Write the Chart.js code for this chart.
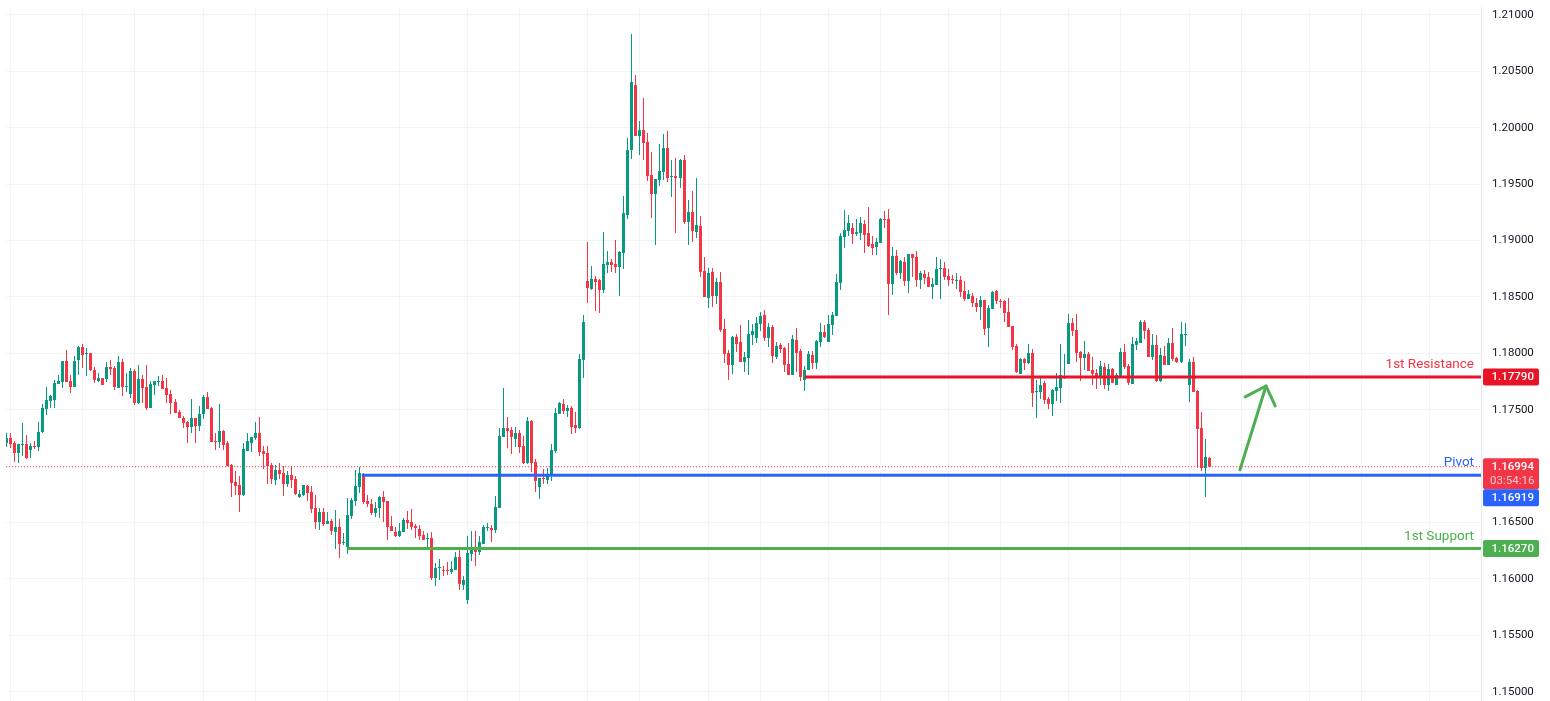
<!DOCTYPE html>
<html><head><meta charset="utf-8">
<script src="https://cdn.jsdelivr.net/npm/chart.js@4/dist/chart.umd.min.js"></script>
<style>html,body{margin:0;padding:0;background:#fff;overflow:hidden}canvas{display:block}</style>
</head><body><canvas id="c" width="1550" height="701"></canvas>
<script>
const highs=[1.17293,1.17293,1.17222,1.17195,1.17382,1.17275,1.17204,1.17222,1.17390,1.17550,
1.17701,1.17630,1.17763,1.17807,1.17931,1.18029,1.17807,1.17976,1.18064,1.18082,
1.18046,1.18002,1.17878,1.17825,1.17780,1.17922,1.17940,1.17887,1.17976,1.17949,
1.17825,1.17869,1.17860,1.17896,1.17807,1.17896,1.17754,1.17754,1.17798,1.17807,
1.17780,1.17674,1.17594,1.17497,1.17444,1.17399,1.17594,1.17426,1.17532,1.17630,
1.17656,1.17523,1.17293,1.17550,1.17319,1.17222,1.17018,1.16956,1.16912,1.17204,
1.17293,1.17257,1.17390,1.17435,1.17178,1.17178,1.17027,1.17009,1.17027,1.17000,
1.16956,1.17000,1.16912,1.16788,1.16832,1.16832,1.16823,1.16744,1.16628,1.16628,
1.16593,1.16531,1.16611,1.16531,1.16407,1.16717,1.16717,1.16965,1.16992,1.16939,
1.16744,1.16708,1.16681,1.16735,1.16779,1.16690,1.16557,1.16460,1.16495,1.16540,
1.16602,1.16619,1.16486,1.16478,1.16424,1.16407,1.16416,1.16141,1.16176,1.16114,
1.16150,1.16158,1.16238,1.16283,1.16025,1.16380,1.16424,1.16424,1.16380,1.16478,
1.16495,1.16478,1.16735,1.17337,1.17692,1.17435,1.17346,1.17346,1.17320,1.17267,
1.17435,1.17408,1.17063,1.16894,1.16974,1.16983,1.17196,1.17515,1.17568,1.17595,
1.17541,1.17533,1.17479,1.17994,1.18340,1.18987,1.18774,1.18685,1.18659,1.19075,
1.18907,1.18836,1.19004,1.18907,1.19394,1.19909,1.20831,1.20467,1.20059,1.20263,
1.19953,1.19785,1.19545,1.19855,1.19944,1.19971,1.19714,1.19731,1.19722,1.19758,
1.19359,1.19439,1.19554,1.19217,1.18854,1.18756,1.18756,1.18668,1.18721,1.18304,
1.18029,1.18153,1.18171,1.18251,1.18012,1.18295,1.18260,1.18322,1.18366,1.18384,
1.18269,1.18251,1.18100,1.18091,1.18056,1.18091,1.18162,1.18224,1.18038,1.17887,
1.18020,1.18020,1.18118,1.18269,1.18251,1.18340,1.18366,1.18703,1.19066,1.19270,
1.19226,1.19155,1.19191,1.19208,1.19182,1.19297,1.19040,1.19022,1.19199,1.19261,
1.19279,1.18942,1.18916,1.18827,1.18854,1.18880,1.18880,1.18907,1.18730,1.18738,
1.18721,1.18668,1.18854,1.18836,1.18809,1.18747,1.18694,1.18712,1.18685,1.18641,
1.18561,1.18535,1.18490,1.18508,1.18472,1.18428,1.18552,1.18561,1.18481,1.18472,
1.18490,1.18242,1.18082,1.17958,1.17958,1.18082,1.18038,1.17763,1.17790,1.17754,
1.17613,1.17683,1.17825,1.18082,1.17994,1.18348,1.18313,1.18348,1.18020,1.18109,
1.18012,1.17967,1.17861,1.17932,1.17914,1.17905,1.17870,1.17825,1.18047,1.18082,
1.17905,1.18145,1.18136,1.18295,1.18295,1.18224,1.18171,1.18162,1.18047,1.18065,
1.18136,1.18224,1.17967,1.18277,1.18269,1.17949,1.17967,1.17675,1.17480,1.17240,
1.17081];
const lows=[1.17169,1.17160,1.17036,1.17027,1.17089,1.17062,1.17071,1.17151,1.17133,1.17293,
1.17452,1.17515,1.17515,1.17727,1.17692,1.17745,1.17647,1.17701,1.17807,1.17869,
1.17798,1.17843,1.17736,1.17745,1.17718,1.17745,1.17807,1.17674,1.17692,1.17621,
1.17656,1.17603,1.17541,1.17550,1.17559,1.17497,1.17515,1.17630,1.17710,1.17683,
1.17559,1.17461,1.17470,1.17426,1.17337,1.17204,1.17293,1.17204,1.17311,1.17417,
1.17506,1.17213,1.17142,1.17160,1.17142,1.17000,1.16726,1.16743,1.16593,1.16734,
1.17133,1.17124,1.17231,1.17089,1.16974,1.16841,1.16841,1.16832,1.16885,1.16734,
1.16814,1.16805,1.16743,1.16717,1.16735,1.16690,1.16584,1.16442,1.16433,1.16469,
1.16486,1.16389,1.16265,1.16185,1.16300,1.16220,1.16531,1.16646,1.16761,1.16664,
1.16637,1.16566,1.16548,1.16540,1.16504,1.16345,1.16424,1.16371,1.16371,1.16416,
1.16442,1.16433,1.16362,1.16345,1.16345,1.16265,1.15990,1.15937,1.15990,1.16025,
1.16034,1.16043,1.16079,1.15901,1.15901,1.15777,1.16158,1.16114,1.16212,1.16309,
1.16424,1.16327,1.16407,1.16628,1.17258,1.17157,1.17107,1.17169,1.17116,1.17018,
1.17018,1.16947,1.16770,1.16708,1.16841,1.16841,1.16868,1.17116,1.17462,1.17462,
1.17435,1.17284,1.17293,1.17329,1.17781,1.18446,1.18561,1.18375,1.18357,1.18535,
1.18712,1.18721,1.18712,1.18508,1.18747,1.19191,1.19722,1.19926,1.19758,1.19714,
1.19527,1.19199,1.18960,1.19483,1.19536,1.19519,1.19386,1.19066,1.19465,1.19146,
1.18960,1.18987,1.19022,1.18676,1.18499,1.18402,1.18410,1.18437,1.18189,1.17914,
1.17763,1.17817,1.18012,1.17923,1.17834,1.17808,1.18074,1.18091,1.18198,1.18109,
1.18056,1.17914,1.17949,1.18003,1.17834,1.17808,1.17808,1.17834,1.17754,1.17666,
1.17852,1.17861,1.17861,1.18056,1.18136,1.18100,1.18162,1.18331,1.18561,1.18933,
1.19040,1.18969,1.19040,1.19004,1.18889,1.18942,1.18871,1.18871,1.18978,1.19111,
1.18340,1.18517,1.18694,1.18659,1.18597,1.18535,1.18676,1.18588,1.18570,1.18614,
1.18588,1.18481,1.18605,1.18481,1.18650,1.18597,1.18614,1.18570,1.18499,1.18464,
1.18481,1.18410,1.18366,1.18295,1.18162,1.18056,1.18393,1.18437,1.18402,1.18277,
1.18233,1.18029,1.17825,1.17817,1.17852,1.17905,1.17524,1.17426,1.17595,1.17551,
1.17506,1.17444,1.17577,1.17559,1.17772,1.17905,1.18153,1.17923,1.17754,1.17852,
1.17843,1.17719,1.17683,1.17719,1.17683,1.17666,1.17737,1.17719,1.17781,1.17861,
1.17719,1.17728,1.18029,1.18091,1.18127,1.17967,1.17941,1.17746,1.17746,1.17896,
1.17896,1.17932,1.17914,1.17914,1.18065,1.17568,1.17657,1.16983,1.16957,1.16726,
1.16992];
const opens=[1.17204,1.17249,1.17204,1.17116,1.17187,1.17195,1.17142,1.17178,1.17169,1.17302,
1.17506,1.17577,1.17585,1.17727,1.17745,1.17931,1.17754,1.17701,1.17940,1.18055,
1.17993,1.18002,1.17851,1.17754,1.17780,1.17772,1.17878,1.17869,1.17692,1.17922,
1.17701,1.17639,1.17843,1.17559,1.17772,1.17701,1.17515,1.17718,1.17745,1.17754,
1.17692,1.17639,1.17568,1.17479,1.17426,1.17390,1.17346,1.17426,1.17355,1.17461,
1.17612,1.17515,1.17222,1.17213,1.17311,1.17204,1.17009,1.16859,1.16832,1.16743,
1.17133,1.17204,1.17249,1.17293,1.17133,1.17116,1.17009,1.16876,1.16965,1.16938,
1.16841,1.16921,1.16885,1.16726,1.16744,1.16823,1.16770,1.16628,1.16504,1.16593,
1.16486,1.16513,1.16416,1.16460,1.16318,1.16283,1.16557,1.16690,1.16814,1.16930,
1.16690,1.16664,1.16584,1.16628,1.16726,1.16690,1.16469,1.16416,1.16380,1.16416,
1.16522,1.16504,1.16469,1.16442,1.16389,1.16353,1.16362,1.16008,1.16096,1.16079,
1.16079,1.16061,1.16079,1.16194,1.15946,1.15813,1.16220,1.16283,1.16238,1.16309,
1.16451,1.16451,1.16433,1.16628,1.17258,1.17337,1.17320,1.17240,1.17293,1.17178,
1.17027,1.17400,1.17036,1.16814,1.16894,1.16876,1.16912,1.17134,1.17462,1.17550,
1.17488,1.17515,1.17364,1.17338,1.17941,1.18641,1.18570,1.18659,1.18650,1.18561,
1.18783,1.18809,1.18792,1.18765,1.18889,1.19226,1.19802,1.20378,1.19926,1.19980,
1.19873,1.19581,1.19412,1.19536,1.19607,1.19820,1.19563,1.19572,1.19554,1.19714,
1.19164,1.19253,1.19075,1.19129,1.18730,1.18490,1.18721,1.18508,1.18632,1.18215,
1.18003,1.17896,1.18145,1.18100,1.17923,1.17958,1.18162,1.18136,1.18260,1.18340,
1.18136,1.18233,1.17967,1.18074,1.18047,1.17905,1.17808,1.18118,1.18020,1.17763,
1.17852,1.17985,1.17914,1.18100,1.18189,1.18100,1.18251,1.18331,1.18623,1.19031,
1.19084,1.19111,1.19058,1.19066,1.19146,1.19066,1.18969,1.18942,1.18978,1.19191,
1.19191,1.18614,1.18863,1.18712,1.18809,1.18641,1.18880,1.18854,1.18650,1.18703,
1.18676,1.18588,1.18605,1.18747,1.18756,1.18685,1.18659,1.18641,1.18650,1.18552,
1.18481,1.18508,1.18446,1.18410,1.18472,1.18224,1.18393,1.18552,1.18464,1.18464,
1.18366,1.18242,1.18065,1.17817,1.17949,1.17914,1.18003,1.17657,1.17657,1.17737,
1.17595,1.17551,1.17666,1.17692,1.17781,1.17905,1.18269,1.18207,1.18012,1.17958,
1.17994,1.17852,1.17825,1.17781,1.17879,1.17719,1.17861,1.17719,1.17781,1.18012,
1.17887,1.17728,1.18074,1.18091,1.18277,1.18207,1.17967,1.18074,1.17754,1.17976,
1.17896,1.18091,1.17958,1.17923,1.18162,1.17719,1.17923,1.17666,1.17338,1.16983,
1.17072];
const closes=[1.17249,1.17195,1.17116,1.17195,1.17195,1.17071,1.17178,1.17169,1.17302,1.17515,
1.17585,1.17621,1.17736,1.17754,1.17931,1.17745,1.17701,1.17931,1.18055,1.17984,
1.18002,1.17851,1.17763,1.17780,1.17718,1.17878,1.17860,1.17701,1.17922,1.17701,
1.17710,1.17843,1.17559,1.17772,1.17692,1.17515,1.17727,1.17754,1.17754,1.17683,
1.17630,1.17559,1.17470,1.17426,1.17382,1.17346,1.17426,1.17355,1.17461,1.17612,
1.17506,1.17213,1.17213,1.17311,1.17187,1.17000,1.16850,1.16823,1.16743,1.17151,
1.17222,1.17257,1.17293,1.17124,1.17107,1.17000,1.16885,1.16965,1.16929,1.16841,
1.16921,1.16876,1.16752,1.16752,1.16832,1.16761,1.16619,1.16504,1.16593,1.16486,
1.16513,1.16424,1.16460,1.16309,1.16327,1.16566,1.16699,1.16823,1.16939,1.16681,
1.16664,1.16584,1.16628,1.16726,1.16681,1.16460,1.16424,1.16380,1.16424,1.16522,
1.16495,1.16460,1.16451,1.16380,1.16345,1.16362,1.16008,1.16096,1.16105,1.16070,
1.16070,1.16088,1.16194,1.15955,1.15990,1.16229,1.16283,1.16238,1.16327,1.16460,
1.16460,1.16433,1.16637,1.17267,1.17337,1.17311,1.17258,1.17293,1.17169,1.17027,
1.17400,1.17027,1.16868,1.16894,1.16885,1.16930,1.17142,1.17470,1.17559,1.17488,
1.17515,1.17346,1.17337,1.17949,1.18277,1.18579,1.18659,1.18632,1.18561,1.18792,
1.18809,1.18783,1.18765,1.18898,1.19244,1.19802,1.20405,1.19926,1.19980,1.19864,
1.19572,1.19412,1.19545,1.19616,1.19820,1.19554,1.19572,1.19554,1.19714,1.19164,
1.19253,1.19084,1.19137,1.18721,1.18499,1.18712,1.18508,1.18632,1.18207,1.17994,
1.17896,1.18145,1.18082,1.17923,1.17967,1.18171,1.18198,1.18269,1.18331,1.18136,
1.18233,1.17976,1.18065,1.18038,1.17896,1.17808,1.18127,1.18003,1.17790,1.17852,
1.17994,1.17914,1.18109,1.18189,1.18145,1.18260,1.18340,1.18632,1.19040,1.19093,
1.19155,1.19058,1.19075,1.19155,1.19049,1.18951,1.18933,1.18987,1.19191,1.19182,
1.18614,1.18863,1.18712,1.18818,1.18641,1.18880,1.18845,1.18650,1.18712,1.18668,
1.18588,1.18614,1.18747,1.18756,1.18676,1.18650,1.18650,1.18650,1.18543,1.18481,
1.18526,1.18446,1.18410,1.18472,1.18215,1.18402,1.18543,1.18464,1.18455,1.18357,
1.18233,1.18056,1.17834,1.17949,1.17914,1.18003,1.17648,1.17666,1.17719,1.17586,
1.17551,1.17675,1.17701,1.17808,1.17790,1.18269,1.18198,1.18003,1.17958,1.17994,
1.17843,1.17817,1.17781,1.17887,1.17719,1.17861,1.17737,1.17808,1.18012,1.17879,
1.17737,1.18082,1.18109,1.18277,1.18198,1.17967,1.18074,1.17754,1.17985,1.17896,
1.18091,1.17949,1.17923,1.18171,1.18171,1.17923,1.17657,1.17329,1.16983,1.17081,
1.16994];

const priceTicks=[1.21,1.205,1.2,1.195,1.19,1.185,1.18,1.175,1.17,1.165,1.16,1.155,1.15];
const hiddenTickLabels=[1.17];
const timeGridBars=[1,19,32,49,62,80,98,115,128,145,158,175,188,205,218,235,248,265,278,295,308,325,338,355];
const resistanceLevel=1.17790, pivotLevel=1.16919, supportLevel=1.16270, lastPrice=1.16994;
const resistanceStart=199.2, pivotStart=88.6, supportStart=85;
const countdownText='03:54:16';
const shaftBars=[307.7,314.2], shaftPrices=[1.16966,1.17710];
const headBars=[309.0,314.2,316.5], headPrices=[1.17613,1.17710,1.17533];

const UP='#089981', DOWN='#f23645', RES='#e91327', PIV='#2962ff', SUP='#4caf50';
const X_MIN=-0.167, X_MAX=367.85, Y_MIN=1.14917, Y_MAX=1.2107;
const FONT='Roboto, "Liberation Sans", sans-serif';
const candleColors=closes.map((c,i)=>c>=opens[i]?UP:DOWN);
const wickData=highs.map((h,i)=>({x:i,y:[lows[i],h]}));
const bodyData=opens.map((o,i)=>({x:i,y:[o,closes[i]]}));
function hline(level,start,color,width,dash,order){
  return {type:'line',data:[{x:start,y:level},{x:X_MAX,y:level}],borderColor:color,borderWidth:width,
    borderDash:dash||[],pointRadius:0,order:order,borderCapStyle:'butt'};
}
function poly(xs,ys,color){
  return {type:'line',data:xs.map((x,i)=>({x,y:ys[i]})),borderColor:color,borderWidth:3,pointRadius:0,order:0,
    borderCapStyle:'round',borderJoinStyle:'round'};
}
const snapBars={id:'snapBars',beforeDatasetsDraw(chart){
  chart.data.datasets.forEach((d,di)=>{
    if(d.type==='line')return;
    chart.getDatasetMeta(di).data.forEach(el=>{el.x=Math.floor(el.x)+0.5;});
  });
}};
function tag(ctx,x,y,w,h,color){ctx.fillStyle=color;ctx.beginPath();ctx.roundRect(x,y,w,h,2);ctx.fill();}
const annotations={id:'annotations',afterDraw(chart){
  const ctx=chart.ctx,ys=chart.scales.y;
  const right=chart.chartArea.right;
  const yR=ys.getPixelForValue(resistanceLevel),yP=ys.getPixelForValue(pivotLevel),yS=ys.getPixelForValue(supportLevel),yL=ys.getPixelForValue(lastPrice);
  ctx.save();
  ctx.textBaseline='middle';
  ctx.textAlign='right';
  ctx.font='13.5px '+FONT;
  ctx.fillStyle=DOWN;ctx.fillText('1st Resistance',right-7,yR-12.5);
  ctx.fillStyle=PIV;ctx.fillText('Pivot',right-7,yP-13);
  ctx.fillStyle=SUP;ctx.fillText('1st Support',right-7,yS-12);
  const tx=right+2,tw=56;
  tag(ctx,tx,yR-8.5,tw,17,RES);
  tag(ctx,tx,yL-8.5,tw,31,DOWN);
  tag(ctx,tx,yP+14,tw,17,PIV);
  tag(ctx,tx,yS-8.5,tw,17,SUP);
  ctx.textAlign='left';
  ctx.fillStyle='#ffffff';
  ctx.font='500 11.5px '+FONT;
  const lx=right+10.5;
  ctx.fillText(resistanceLevel.toFixed(5),lx,yR+0.5);
  ctx.fillText(lastPrice.toFixed(5),lx,yL);
  ctx.fillText(pivotLevel.toFixed(5),lx,yP+22.5);
  ctx.fillText(supportLevel.toFixed(5),lx,yS+0.5);
  ctx.font='11.5px '+FONT;
  ctx.fillStyle='rgba(255,255,255,0.72)';
  ctx.fillText(countdownText,right+9,yL+14);
  ctx.restore();
}};
new Chart(document.getElementById('c'),{
  type:'bar',
  data:{datasets:[
    hline(supportLevel,supportStart,SUP,3,null,1),
    hline(pivotLevel,pivotStart,PIV,3,null,1),
    hline(resistanceLevel,resistanceStart,RES,3,null,1),
    hline(lastPrice,X_MIN,DOWN,1,[1,2],2),
    poly(shaftBars,shaftPrices,SUP),
    poly(headBars,headPrices,SUP),
    {label:'body',data:bodyData,backgroundColor:candleColors,barThickness:3,grouped:false,order:3,minBarLength:1,inflateAmount:0,borderSkipped:false},
    {label:'wick',data:wickData,backgroundColor:candleColors,barThickness:1,grouped:false,order:4,inflateAmount:0,borderSkipped:false}
  ]},
  plugins:[snapBars,annotations],
  options:{
    responsive:false,animation:false,devicePixelRatio:1,
    layout:{padding:{left:6,top:7,right:0,bottom:0}},
    plugins:{legend:{display:false},tooltip:{enabled:false}},
    scales:{
      x:{type:'linear',min:X_MIN,max:X_MAX,offset:false,
        afterBuildTicks(s){s.ticks=timeGridBars.map(v=>({value:v}));},
        afterFit(s){s.height=0;s.paddingLeft=0;s.paddingRight=0;},
        ticks:{display:false,autoSkip:false},
        grid:{color:'#f2f3f5',lineWidth:1,drawTicks:false,offset:false},border:{display:false}},
      y:{position:'right',min:Y_MIN,max:Y_MAX,
        afterBuildTicks(s){s.ticks=priceTicks.map(v=>({value:v}));},
        afterFit(s){s.width=69;s.paddingTop=0;s.paddingBottom=0;},
        ticks:{padding:11,color:'#131722',font:{family:FONT,size:11.5},autoSkip:false,
          callback(v){return hiddenTickLabels.includes(v)?'':v.toFixed(5);}},
        grid:{color:'#f2f3f5',lineWidth:1,drawTicks:false},
        border:{display:true,color:'#e6e8ec'}}
    }
  }
});
</script>
</body></html>
